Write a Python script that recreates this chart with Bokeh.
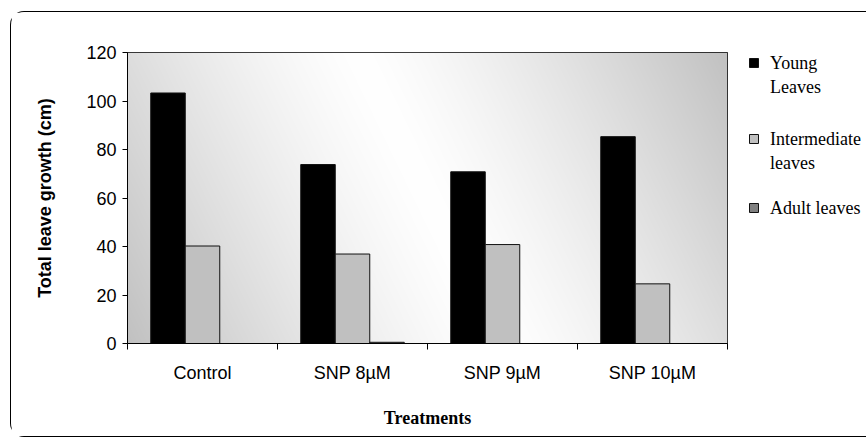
import numpy as np
from bokeh.plotting import figure
from bokeh.layouts import row
from bokeh.core.properties import value
from bokeh.models import (ColumnDataSource, FixedTicker, Whisker, TeeHead, Range1d)
from bokeh.embed import file_html
from bokeh.resources import INLINE

# ---- data ----
categories = ["Control", "SNP 8µM", "SNP 9µM", "SNP 10µM"]
young = [103.3, 73.8, 70.8, 85.3]
young_err = [0.5, 0.3, 0.5, 0.5]
intermediate = [40.2, 36.9, 40.8, 24.6]
intermediate_err = [0.5, 0.5, 0.5, 0.5]
adult = [0.0, 0.5, 0.0, 0.0]
legend_lines = [["Young", "Leaves"], ["Intermediate", "leaves"], ["Adult leaves"]]
y_ticks = [0, 20, 40, 60, 80, 100, 120]
y_max = 120

# ---- style ----
colors = ["#000000", "#c0c0c0", "#808080"]
bar_w = 0.23
offsets = [-0.23, 0.0, 0.23]
TICK_FONT = "Liberation Sans"
SERIF = "Liberation Serif"
FIG_H = 424

x_lo, x_hi = -0.5, len(categories) - 0.5

fig = figure(width=720, height=FIG_H, output_backend="svg", toolbar_location=None,
             x_range=Range1d(x_lo, x_hi), y_range=Range1d(0, y_max),
             min_border_left=116, min_border_right=4, min_border_top=40,
             min_border_bottom=93, frame_align=False)
fig.background_fill_color = "white"
fig.border_fill_color = "white"
fig.outline_line_color = "black"
fig.outline_line_width = 1
fig.xgrid.visible = False
fig.ygrid.visible = False

# gradient background of plot area (style only)
H, W = 291, 600
yy, xx = np.mgrid[0:H, 0:W]
t = (xx * W + yy * H) / float(W * W + H * H)
g = (255 - 62 * np.abs(2 * t - 1) ** 1.3).astype(np.uint8)
img = np.empty((H, W), dtype=np.uint32)
view = img.view(dtype=np.uint8).reshape((H, W, 4))
view[..., 0] = g
view[..., 1] = g
view[..., 2] = g
view[..., 3] = 255
fig.image_rgba(image=[img], x=x_lo, y=0, dw=x_hi - x_lo, dh=y_max)

xs = list(range(len(categories)))
all_vals = [young, intermediate, adult]
for k, vals in enumerate(all_vals):
    src = ColumnDataSource(dict(x=[i + offsets[k] for i in xs], top=vals))
    fig.vbar(x="x", top="top", bottom=0, width=bar_w, source=src,
             fill_color=colors[k], line_color="#111111", line_width=1)

for k, (vals, errs) in enumerate([(young, young_err), (intermediate, intermediate_err)]):
    esrc = ColumnDataSource(dict(base=[i + offsets[k] for i in xs],
                                 upper=[v + e for v, e in zip(vals, errs)],
                                 lower=[v - e for v, e in zip(vals, errs)]))
    w = Whisker(base="base", upper="upper", lower="lower", source=esrc,
                line_color="black", line_width=1,
                upper_head=TeeHead(size=10, line_color="black", line_width=1),
                lower_head=TeeHead(size=10, line_color="black", line_width=1))
    fig.add_layout(w)

# axes
fig.xaxis.ticker = FixedTicker(ticks=xs, minor_ticks=[i + 0.5 for i in [-1] + xs])
fig.xaxis.major_label_overrides = {i: c for i, c in zip(xs, categories)}
fig.xaxis.major_tick_line_color = None
fig.xaxis.major_tick_out = 6
fig.xaxis.major_tick_in = 0
fig.xaxis.minor_tick_out = 6
fig.xaxis.minor_tick_in = 0
fig.xaxis.minor_tick_line_color = "black"
fig.xaxis.major_label_standoff = 13
fig.xaxis.axis_label = "Treatments"
fig.xaxis.axis_label_text_font = SERIF
fig.xaxis.axis_label_text_font_style = "bold"
fig.xaxis.axis_label_text_font_size = "18px"
fig.xaxis.axis_label_standoff = 22

fig.yaxis.ticker = FixedTicker(ticks=y_ticks)
fig.yaxis.major_tick_out = 5
fig.yaxis.major_tick_in = 0
fig.yaxis.minor_tick_line_color = None
fig.yaxis.major_label_standoff = 6
fig.yaxis.axis_label = "Total leave growth (cm)"
fig.yaxis.axis_label_text_font = TICK_FONT
fig.yaxis.axis_label_text_font_style = "bold"
fig.yaxis.axis_label_text_font_size = "18px"
fig.yaxis.axis_label_standoff = 28

for ax in (fig.xaxis, fig.yaxis):
    ax.axis_line_color = "black"
    ax.axis_line_width = 1
    ax.major_tick_line_width = 1
    ax.major_label_text_font = TICK_FONT
    ax.major_label_text_font_size = "18px"
    ax.major_label_text_color = "black"
    ax.axis_label_text_color = "black"
fig.yaxis.major_tick_line_color = "black"

# ---- legend panel (separate small figure, pixel coordinates, y downward) ----
LEG_W = 135
leg = figure(width=LEG_W, height=FIG_H, output_backend="svg", toolbar_location=None,
             x_range=Range1d(0, LEG_W), y_range=Range1d(FIG_H, 0),
             min_border=0, x_axis_type=None, y_axis_type=None, frame_align=False)
leg.outline_line_color = None
leg.background_fill_color = "white"
leg.border_fill_color = "white"
leg.xgrid.visible = False
leg.ygrid.visible = False

row_y = [50.5, 126.5, 195.5]      # first-line centre of each entry
line_gap = 24
sq_x, txt_x, sq = 22.5, 38.5, 9
leg.rect(x=[sq_x] * len(legend_lines), y=row_y, width=sq, height=sq,
         fill_color=colors, line_color="#111111", line_width=1)
tx, ty, tt = [], [], []
for k, lines in enumerate(legend_lines):
    for j, txt in enumerate(lines):
        tx.append(txt_x)
        ty.append(row_y[k] + j * line_gap)
        tt.append(txt)
leg.text(x=tx, y=ty, text=tt, text_font=value(SERIF), text_font_size="18px",
         text_baseline="middle", text_align="left", text_color="black")

p = row(fig, leg)
p.margin = (11, 0, 0, 10)
p.styles = {"border-left": "1.5px solid black", "border-top": "1.5px solid black",
            "border-bottom": "1.5px solid black", "border-radius": "14px 0 0 14px"}

open("out.html", "w").write(file_html(p, INLINE))
